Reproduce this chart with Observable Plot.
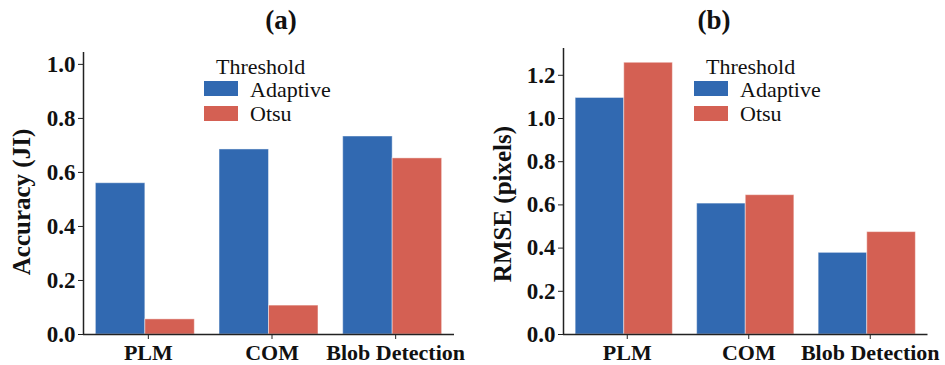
<!DOCTYPE html>
<html>
<head>
<meta charset="utf-8">
<script src="https://cdn.jsdelivr.net/npm/d3@7"></script>
<script src="https://cdn.jsdelivr.net/npm/@observablehq/plot@0.6"></script>
<style>
  html, body { margin: 0; padding: 0; background: #fff; }
  #wrap { position: relative; width: 945px; height: 365px; font-family: "Liberation Serif", "Times New Roman", serif; color: #111; }
  .panel { position: absolute; top: 0; }
  .t { position: absolute; font-size: 22px; line-height: 22px; white-space: nowrap; }
  .b { font-weight: bold; font-size: 27px; line-height: 27px; }
  .ylab { position: absolute; font-size: 25px; line-height: 25px; font-weight: bold; white-space: nowrap; transform: translate(-50%, -50%) rotate(-90deg); }
  .sw { position: absolute; width: 34px; height: 15px; }
</style>
</head>
<body>
<div id="wrap"></div>
<script>
const categories = ["PLM", "COM", "Blob Detection"];
const thresholds = ["Adaptive", "Otsu"];
const colors = ["#3169b1", "#d46053"];
const accuracyAdaptive = [0.560, 0.685, 0.733];
const accuracyOtsu = [0.056, 0.107, 0.652];
const rmseAdaptive = [1.095, 0.606, 0.378];
const rmseOtsu = [1.258, 0.645, 0.474];
const accuracyTicks = [0, 0.2, 0.4, 0.6, 0.8, 1.0];
const rmseTicks = [0, 0.2, 0.4, 0.6, 0.8, 1.0, 1.2];

function rowsOf(a, b) {
  const rows = [];
  categories.forEach((c, i) => {
    rows.push({cat: c, i, series: thresholds[0], j: 0, value: a[i]});
    rows.push({cat: c, i, series: thresholds[1], j: 1, value: b[i]});
  });
  return rows;
}

function panel({rows, ticks, yMax, width, marginLeft, marginRight, marginTop}) {
  return Plot.plot({
    width, height: 365,
    marginLeft, marginRight, marginTop, marginBottom: 31,
    style: {fontFamily: '"Liberation Serif", "Times New Roman", serif', fontSize: "22px", fontWeight: "bold", color: "#111", background: "transparent"},
    x: {domain: [-0.5, 2.5]},
    y: {domain: [0, yMax]},
    color: {domain: thresholds, range: colors},
    marks: [
      Plot.rectY(rows, {
        x1: d => d.i - 0.4 + 0.4 * d.j,
        x2: d => d.i + 0.4 * d.j,
        y: "value",
        fill: "series",
        stroke: "#ffffff", strokeOpacity: 0.45, strokeWidth: 1
      }),
      Plot.axisY({ticks, tickFormat: d3.format(".1f"), tickSize: 5, tickPadding: 3, label: null, stroke: "#222", fontSize: 23}),
      Plot.axisX({ticks: [0, 1, 2], tickFormat: i => categories[i], tickSize: 5, tickPadding: 5, dx: 3, label: null, stroke: "#222", fontSize: 22}),
      Plot.ruleY([0], {stroke: "#222", strokeWidth: 1.5}),
      Plot.ruleX([-0.5], {stroke: "#222", strokeWidth: 1.5})
    ]
  });
}

const wrap = document.getElementById("wrap");

const left = panel({rows: rowsOf(accuracyAdaptive, accuracyOtsu), ticks: accuracyTicks, yMax: 1.044, width: 480, marginLeft: 83, marginRight: 26, marginTop: 52});
left.classList.add("panel"); left.style.left = "0px";
wrap.appendChild(left);

const right = panel({rows: rowsOf(rmseAdaptive, rmseOtsu), ticks: rmseTicks, yMax: 1.324, width: 465, marginLeft: 83, marginRight: 17.5, marginTop: 48});
right.classList.add("panel"); right.style.left = "480px";
wrap.appendChild(right);

function addText(txt, x, top, cls, center) {
  const d = document.createElement("div");
  d.className = cls;
  d.textContent = txt;
  d.style.left = x + "px";
  d.style.top = top + "px";
  if (center) d.style.transform = "translateX(-50%)";
  wrap.appendChild(d);
  return d;
}
function addYLabel(txt, cx, cy) {
  const d = document.createElement("div");
  d.className = "ylab";
  d.textContent = txt;
  d.style.left = cx + "px";
  d.style.top = cy + "px";
  wrap.appendChild(d);
}
function addLegend(x0, swTop) {
  addText("Threshold", x0 + 12, 55.5, "t", false);
  thresholds.forEach((s, k) => {
    const sw = document.createElement("div");
    sw.className = "sw";
    sw.style.left = x0 + "px";
    sw.style.top = (swTop + k * 24.5) + "px";
    sw.style.background = colors[k];
    wrap.appendChild(sw);
    addText(s, x0 + 46, 78.5 + k * 24, "t", false);
  });
}

addText("(a)", 281, 7, "t b", true);
addText("(b)", 714, 7, "t b", true);
addYLabel("Accuracy (JI)", 21, 202);
addYLabel("RMSE (pixels)", 502, 204);
addLegend(204, 81);
addLegend(694, 81);
</script>
</body>
</html>
